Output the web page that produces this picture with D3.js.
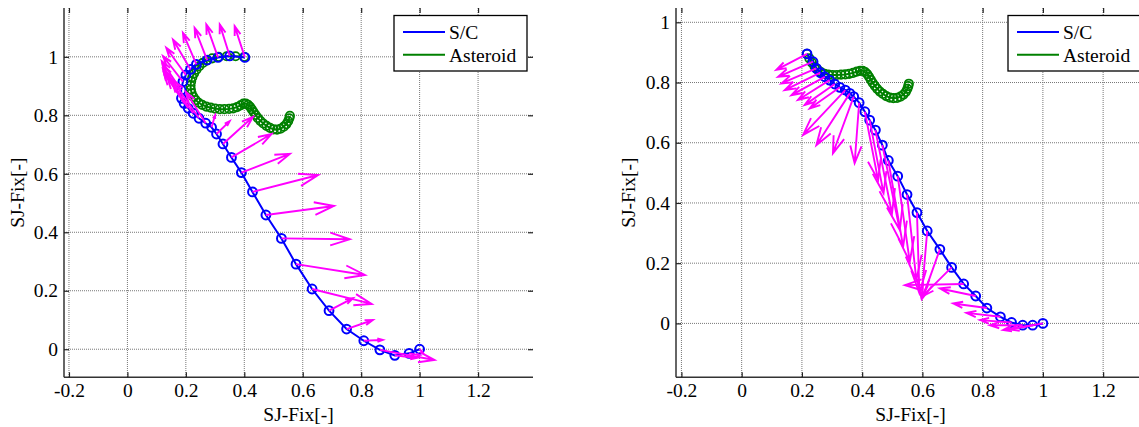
<!DOCTYPE html>
<html>
<head>
<meta charset="utf-8">
<script src="https://cdn.jsdelivr.net/npm/d3@7"></script>
<style>
  body { margin: 0; background: #fff; }
  text { font-family: "Liberation Serif", "Times New Roman", serif; }
</style>
</head>
<body>
<div id="chart"></div>
<script>
// tick values / labels shared by both panels
const xTicks = [-0.2, 0, 0.2, 0.4, 0.6, 0.8, 1, 1.2];
const xTickLabels = ["-0.2", "0", "0.2", "0.4", "0.6", "0.8", "1", "1.2"];
const yTicks = [0, 0.2, 0.4, 0.6, 0.8, 1];
const yTickLabels = ["0", "0.2", "0.4", "0.6", "0.8", "1"];
const seriesNames = ["S/C", "Asteroid"];
const axisLabel = "SJ-Fix[-]";

// left panel: spacecraft path, asteroid path, arrow tips (one per S/C point)
const leftSC = [
  [0.402,0.998],[0.350,1.003],[0.310,0.998],[0.273,0.989],[0.236,0.974],[0.216,0.957],
  [0.200,0.938],[0.190,0.915],[0.184,0.886],[0.185,0.858],[0.194,0.841],[0.208,0.824],
  [0.225,0.807],[0.245,0.790],[0.268,0.773],[0.288,0.759],[0.305,0.736],[0.327,0.702],
  [0.356,0.656],[0.390,0.604],[0.428,0.538],[0.474,0.459],[0.527,0.379],[0.577,0.291],
  [0.632,0.206],[0.690,0.132],[0.750,0.069],[0.809,0.029],[0.864,-0.002],[0.915,-0.021],
  [0.964,-0.014],[1.000,0.000]
];
const leftTips = [
  [0.367,1.105],[0.316,1.111],[0.270,1.111],[0.230,1.099],[0.190,1.082],[0.156,1.059],
  [0.133,1.031],[0.122,1.002],[0.118,0.985],[0.120,0.974],[0.122,0.957],[0.125,0.945],
  [0.135,0.935],[0.150,0.925],[0.200,0.880],[0.300,0.800],[0.350,0.780],[0.430,0.795],
  [0.493,0.736],[0.556,0.668],[0.653,0.596],[0.707,0.490],[0.761,0.376],[0.813,0.254],
  [0.836,0.155],[0.772,0.175],[0.840,0.100],[0.874,0.032],[1.051,-0.037],[0.990,-0.030],
  [1.000,-0.020],[1.010,-0.010]
];
const leftAst = [
  [0.400,1.000],[0.370,1.002],[0.340,1.002],[0.312,1.000],[0.290,0.995],[0.272,0.988],
  [0.258,0.979],[0.246,0.968],[0.236,0.956],[0.228,0.943],[0.222,0.930],[0.218,0.916],
  [0.216,0.902],[0.217,0.888],[0.220,0.875],[0.226,0.863],[0.234,0.852],[0.244,0.843],
  [0.256,0.836],[0.270,0.830],[0.285,0.826],[0.300,0.823],[0.316,0.821],[0.332,0.821],
  [0.348,0.822],[0.362,0.824],[0.375,0.828],[0.387,0.834],[0.397,0.840],[0.405,0.840],
  [0.413,0.836],[0.420,0.829],[0.426,0.820],[0.432,0.811],[0.439,0.801],[0.446,0.791],
  [0.455,0.781],[0.465,0.772],[0.476,0.764],[0.488,0.757],[0.500,0.752],[0.512,0.751],
  [0.524,0.754],[0.535,0.761],[0.544,0.770],[0.550,0.780],[0.554,0.790],[0.556,0.798]
];

// right panel
const rightSC = [
  [0.217,0.895],[0.237,0.869],[0.248,0.847],[0.261,0.833],[0.276,0.819],[0.292,0.808],
  [0.309,0.795],[0.326,0.784],[0.344,0.775],[0.359,0.764],[0.372,0.753],[0.390,0.733],
  [0.409,0.703],[0.425,0.675],[0.444,0.642],[0.467,0.592],[0.487,0.541],[0.518,0.489],
  [0.549,0.428],[0.582,0.368],[0.616,0.307],[0.658,0.246],[0.697,0.186],[0.737,0.131],
  [0.777,0.091],[0.814,0.051],[0.859,0.022],[0.896,0.003],[0.933,-0.006],[0.966,-0.006],
  [1.000,0.000]
];
const rightTips = [
  [0.115,0.842],[0.121,0.819],[0.132,0.797],[0.143,0.775],[0.165,0.758],[0.187,0.742],
  [0.209,0.725],[0.226,0.714],[0.204,0.626],[0.248,0.592],[0.303,0.565],[0.375,0.532],
  [0.453,0.476],[0.471,0.432],[0.499,0.365],[0.525,0.310],[0.536,0.255],[0.558,0.205],
  [0.580,0.144],[0.590,0.100],[0.597,0.083],[0.600,0.083],[0.600,0.090],[0.542,0.127],
  [0.658,0.116],[0.702,0.066],[0.746,0.035],[0.791,0.011],[0.824,-0.006],[0.868,-0.022],
  [0.890,-0.020]
];
const rightAst = [
  [0.217,0.895],[0.225,0.880],[0.233,0.866],[0.242,0.853],[0.252,0.843],[0.263,0.835],
  [0.275,0.829],[0.288,0.826],[0.302,0.825],[0.316,0.825],[0.330,0.826],[0.344,0.827],
  [0.357,0.829],[0.370,0.832],[0.382,0.836],[0.393,0.839],[0.402,0.839],[0.410,0.835],
  [0.417,0.828],[0.423,0.819],[0.429,0.809],[0.435,0.799],[0.442,0.789],[0.450,0.779],
  [0.459,0.770],[0.469,0.762],[0.480,0.755],[0.492,0.750],[0.504,0.748],[0.516,0.749],
  [0.527,0.753],[0.537,0.760],[0.545,0.769],[0.550,0.779],[0.553,0.788],[0.555,0.796]
];

const width = 1139, height = 427;
const fontSize = 19.5;

const panels = [
  { sc: leftSC, ast: leftAst, tips: leftTips,
    xDom: [-0.217, 1.388], yDom: [-0.096, 1.167],
    x0: 64, x1: 533, y0: 8, y1: 377.3, legendX: 394, ylabelX: 18 },
  { sc: rightSC, ast: rightAst, tips: rightTips,
    xDom: [-0.218, 1.339], yDom: [-0.179, 1.0475],
    x0: 676, x1: 1145, y0: 8, y1: 377.3, legendX: 1008, ylabelX: 629 }
];

const svg = d3.select("#chart").append("svg")
  .attr("width", width).attr("height", height);

panels.forEach((p, pi) => {
  const x = d3.scaleLinear().domain(p.xDom).range([p.x0, p.x1]);
  const y = d3.scaleLinear().domain(p.yDom).range([p.y1, p.y0]);
  const g = svg.append("g");

  // grid
  g.selectAll(".vgrid").data(xTicks).enter().append("line")
    .attr("x1", d => x(d)).attr("x2", d => x(d))
    .attr("y1", p.y0).attr("y2", p.y1)
    .attr("stroke", "#777").attr("stroke-width", 1).attr("stroke-dasharray", "1,1");
  g.selectAll(".hgrid").data(yTicks).enter().append("line")
    .attr("x1", p.x0).attr("x2", p.x1)
    .attr("y1", d => y(d)).attr("y2", d => y(d))
    .attr("stroke", "#777").attr("stroke-width", 1).attr("stroke-dasharray", "1,1");

  // axes (ticks inward)
  const xb = g.append("g").attr("transform", `translate(0,${p.y1})`)
    .call(d3.axisBottom(x).tickValues(xTicks).tickFormat((d, i) => xTickLabels[i])
      .tickSizeInner(-5).tickSizeOuter(0).tickPadding(6));
  const yl = g.append("g").attr("transform", `translate(${p.x0},0)`)
    .call(d3.axisLeft(y).tickValues(yTicks).tickFormat((d, i) => yTickLabels[i])
      .tickSizeInner(-5).tickSizeOuter(0).tickPadding(6));
  const xt = g.append("g").attr("transform", `translate(0,${p.y0})`)
    .call(d3.axisTop(x).tickValues(xTicks).tickFormat("").tickSizeInner(-5).tickSizeOuter(0));
  const yr = g.append("g").attr("transform", `translate(${p.x1},0)`)
    .call(d3.axisRight(y).tickValues(yTicks).tickFormat("").tickSizeInner(-5).tickSizeOuter(0));
  xt.select(".domain").remove();
  yr.select(".domain").remove();
  [xb, yl, xt, yr].forEach(a => {
    a.selectAll("text").style("font-family", "Liberation Serif").style("font-size", fontSize + "px").attr("fill", "#000");
    a.selectAll("line").attr("stroke", "#222").attr("stroke-width", 1.2);
    a.select(".domain").attr("stroke", "#333").attr("stroke-width", 1.5);
  });
  // domain lines span the whole plot box
  yl.select(".domain").attr("d", `M0,${p.y1}V${p.y0}`);
  xb.select(".domain").attr("d", `M${p.x0},0H${p.x1}`);

  // axis labels
  g.append("text").attr("x", (p.x0 + p.x1) / 2).attr("y", 421)
    .attr("text-anchor", "middle").style("font-size", fontSize + "px").text(axisLabel);
  g.append("text").attr("transform", `translate(${p.ylabelX + 6},${(p.y0 + p.y1) / 2}) rotate(-90)`)
    .attr("text-anchor", "middle").style("font-size", fontSize + "px").text(axisLabel);

  // plot area
  const clipId = "clip" + pi;
  svg.append("clipPath").attr("id", clipId).append("rect")
    .attr("x", p.x0).attr("y", p.y0).attr("width", p.x1 - p.x0).attr("height", p.y1 - p.y0);
  const area = g.append("g").attr("clip-path", `url(#${clipId})`);
  const line = d3.line().x(d => x(d[0])).y(d => y(d[1]));

  // asteroid
  area.append("path").datum(p.ast).attr("d", line)
    .attr("fill", "none").attr("stroke", "#008000").attr("stroke-width", 2);
  area.selectAll(".ast").data(p.ast).enter().append("circle")
    .attr("cx", d => x(d[0])).attr("cy", d => y(d[1])).attr("r", 4.2)
    .attr("fill", "none").attr("stroke", "#008000").attr("stroke-width", 1.8);

  // spacecraft
  area.append("path").datum(p.sc).attr("d", line)
    .attr("fill", "none").attr("stroke", "#0000ff").attr("stroke-width", 2);
  area.selectAll(".sc").data(p.sc).enter().append("circle")
    .attr("cx", d => x(d[0])).attr("cy", d => y(d[1])).attr("r", 4.4)
    .attr("fill", "none").attr("stroke", "#0000ff").attr("stroke-width", 2);

  // arrows
  const arrows = area.selectAll(".arr").data(p.sc.map((d, i) => [d, p.tips[i]])).enter().append("g");
  arrows.append("path")
    .attr("d", ([a, b]) => {
      const ax = x(a[0]), ay = y(a[1]), bx = x(b[0]), by = y(b[1]);
      const dx = bx - ax, dy = by - ay, len = Math.hypot(dx, dy);
      const ang = Math.atan2(dy, dx), hl = len * 0.3, spread = 18 * Math.PI / 180;
      const h1 = [bx - hl * Math.cos(ang - spread), by - hl * Math.sin(ang - spread)];
      const h2 = [bx - hl * Math.cos(ang + spread), by - hl * Math.sin(ang + spread)];
      return `M${ax},${ay}L${bx},${by}M${h1[0]},${h1[1]}L${bx},${by}L${h2[0]},${h2[1]}`;
    })
    .attr("fill", "none").attr("stroke", "#ff00ff").attr("stroke-width", 1.9);

  // legend
  const lg = g.append("g").attr("transform", `translate(${p.legendX},15.5)`);
  lg.append("rect").attr("width", 133).attr("height", 55.5)
    .attr("fill", "#fff").attr("stroke", "#000").attr("stroke-width", 1.3);
  const colors = ["#0000ff", "#008000"];
  seriesNames.forEach((name, i) => {
    const yy = 16.5 + i * 22.8;
    lg.append("line").attr("x1", 9).attr("x2", 51).attr("y1", yy).attr("y2", yy)
      .attr("stroke", colors[i]).attr("stroke-width", 2);
    lg.append("text").attr("x", 55).attr("y", yy + 6.8)
      .style("font-size", fontSize + "px").text(name);
  });
});
</script>
</body>
</html>
